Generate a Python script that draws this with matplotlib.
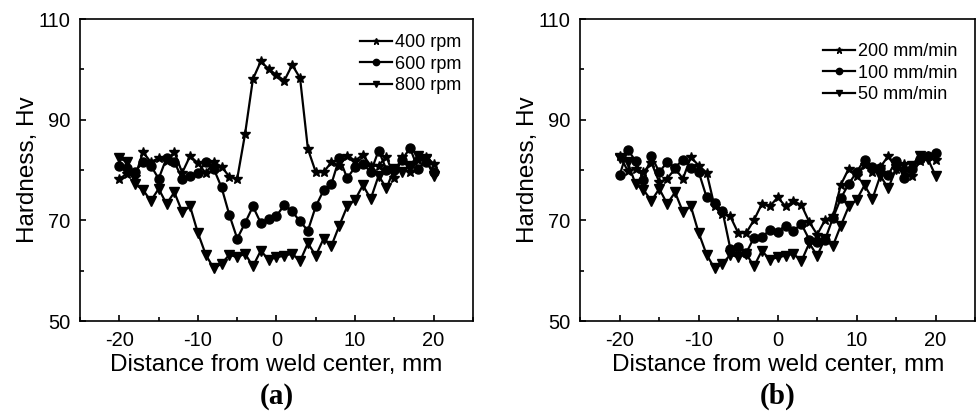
import numpy as np
import matplotlib
matplotlib.use('Agg')
import matplotlib.pyplot as plt
from matplotlib.ticker import MultipleLocator

plt.rcParams['font.family'] = ['Liberation Sans', 'DejaVu Sans']
plt.rcParams['axes.unicode_minus'] = False

# distance from weld center, mm
dist = np.arange(-20, 21)

# (a) rotation speed
rpm400 = [78.3, 79.3, 78.7, 83.6, 81.6, 82.4, 81.8, 83.6, 79.5, 82.8,
          81.4, 79.4, 81.6, 80.7, 78.7, 78.3, 87.2, 98.1, 101.6, 100.1,
          98.9, 97.8, 100.9, 98.3, 84.2, 79.6, 79.6, 81.6, 80.9, 82.9,
          81.9, 83.0, 80.9, 80.9, 82.7, 78.4, 82.7, 79.6, 82.1, 82.7, 81.3]
rpm600 = [80.9, 80.4, 79.7, 81.6, 80.9, 78.3, 82.4, 81.6, 78.3, 78.9,
          79.4, 81.6, 80.3, 76.6, 71.1, 66.4, 69.5, 72.8, 69.5, 70.2,
          70.9, 73.1, 71.8, 69.8, 68.0, 72.8, 76.0, 77.3, 82.4, 78.4,
          80.6, 81.3, 79.6, 83.9, 80.1, 80.1, 82.1, 84.4, 80.3, 81.7, 79.6]
rpm800 = [82.4, 81.6, 77.2, 76.1, 73.9, 76.3, 73.3, 75.6, 71.7, 72.8,
          67.5, 63.2, 60.5, 61.4, 63.2, 62.7, 63.4, 60.9, 64.0, 62.2,
          62.7, 63.0, 63.4, 61.9, 65.5, 63.0, 66.4, 65.0, 69.0, 72.8,
          74.1, 77.0, 74.3, 78.9, 76.4, 80.3, 79.7, 80.9, 82.9, 82.3, 78.9]

# (b) welding speed
v200 = [82.8, 79.9, 80.3, 79.6, 81.5, 77.6, 78.3, 80.3, 78.3, 82.6,
        80.9, 79.5, 72.8, 71.3, 70.8, 67.5, 67.5, 70.1, 73.3, 72.8,
        74.6, 72.8, 73.8, 73.1, 69.7, 67.2, 70.1, 70.8, 77.1, 80.3,
        78.9, 81.1, 79.6, 80.6, 82.8, 80.3, 81.3, 78.9, 81.9, 82.9, 82.1]
v100 = [79.1, 84.1, 81.8, 78.1, 82.8, 79.6, 81.6, 80.5, 82.1, 80.5,
        79.6, 74.6, 73.4, 71.9, 64.4, 64.8, 63.5, 66.6, 66.7, 68.1,
        67.8, 69.0, 68.0, 69.3, 66.2, 65.8, 66.2, 70.5, 74.4, 77.3,
        79.6, 82.1, 80.6, 80.5, 79.1, 81.8, 78.5, 80.3, 82.3, 82.8, 83.4]
v50 = rpm800

labels_a = ['400 rpm', '600 rpm', '800 rpm']
labels_b = ['200 mm/min', '100 mm/min', '50 mm/min']
markers = ['*', 'o', 'v']
msizes = [7, 6.5, 7]


def draw_panel(ax, series, labels, tag, leg_anchor):
    for ys, lab, m, ms in zip(series, labels, markers, msizes):
        ax.plot(dist, ys, color='black', lw=1.6, marker=m, ms=ms, label=lab)
    ax.set_xlim(-25, 25)
    ax.set_ylim(50, 110)
    ax.xaxis.set_major_locator(MultipleLocator(10))
    ax.xaxis.set_minor_locator(MultipleLocator(5))
    ax.set_yticks([50, 70, 90, 110])
    ax.set_yticks([60, 80, 100], minor=True)
    ax.tick_params(which='both', direction='in', labelsize=14.5, width=1.2)
    ax.tick_params(which='major', length=4, pad=7)
    ax.tick_params(which='minor', length=3)
    for s in ax.spines.values():
        s.set_linewidth(1.2)
    ax.set_xlabel('Distance from weld center, mm', fontsize=17.5, labelpad=3)
    ax.set_ylabel('Hardness, Hv', fontsize=17.5, labelpad=0)
    ax.legend(loc='upper right', bbox_to_anchor=leg_anchor, frameon=False,
              fontsize=13, handlelength=1.8, handletextpad=0.15,
              labelspacing=0.25, markerscale=0.7, borderpad=0,
              borderaxespad=0)
    ax.text(0.5, -0.205, tag, transform=ax.transAxes, ha='center', va='top',
            fontsize=21, fontweight='bold', family='Liberation Serif')


fig = plt.figure(figsize=(9.77, 4.16), dpi=100)
ax1 = fig.add_axes([0.082, 0.228, 0.402, 0.726])
ax2 = fig.add_axes([0.594, 0.228, 0.404, 0.726])

draw_panel(ax1, [rpm400, rpm600, rpm800], labels_a, '(a)', (0.97, 0.95))
draw_panel(ax2, [v200, v100, v50], labels_b, '(b)', (0.955, 0.92))

fig.savefig('out.png', dpi=100)
